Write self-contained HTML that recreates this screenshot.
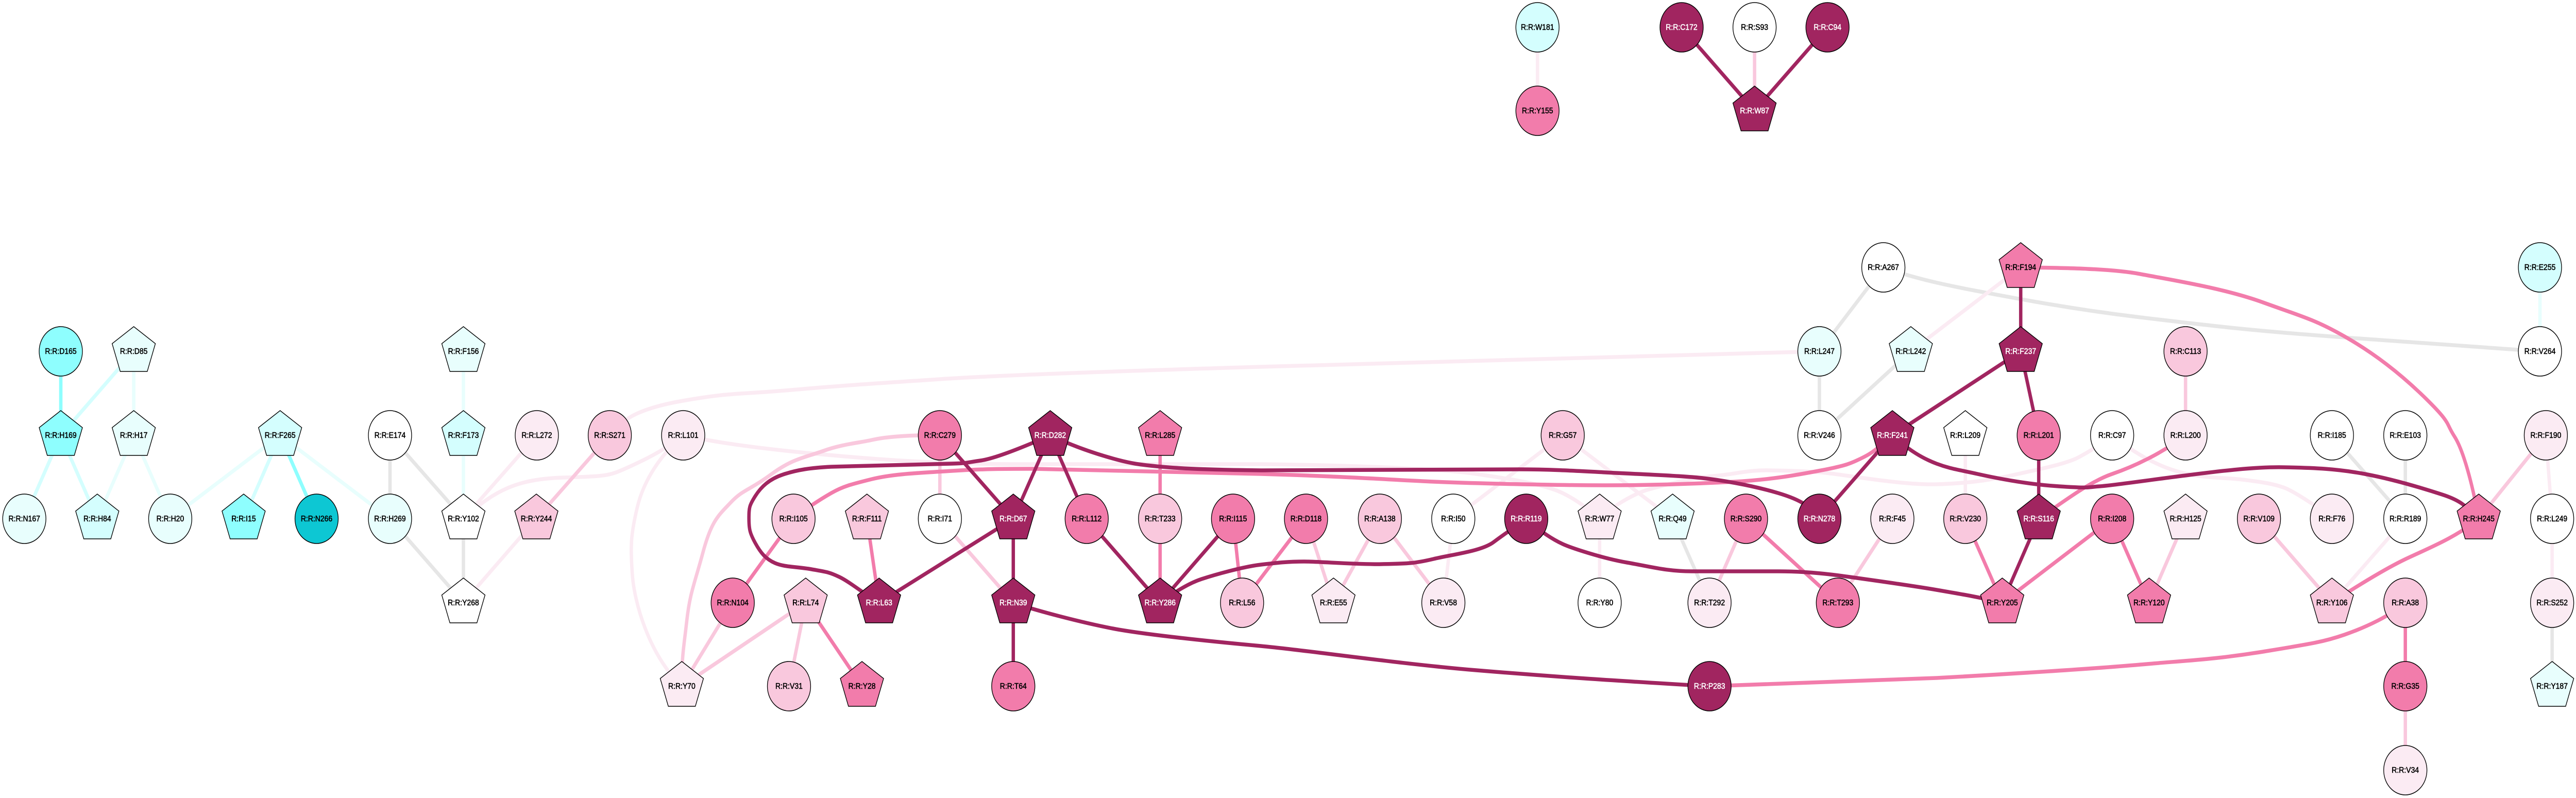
<!DOCTYPE html>
<html><head><meta charset="utf-8"><style>
html,body{margin:0;padding:0;background:#fff;width:100%;height:100%;overflow:hidden}
svg{display:block;width:100%;height:100%}
.e path{fill:none;stroke-width:7.5}
text{text-anchor:middle;font-family:"Liberation Sans",Arial,sans-serif;font-size:16px;fill:#000;stroke:#000;stroke-width:.55}
.n circle,.n use{stroke:#000;stroke-width:1.5}
.d circle,.d use{fill:#a12560}.d text{fill:#fff;stroke:#fff}
.p circle,.p use{fill:#f27cab}
.l circle,.l use{fill:#f9c8dd}
.v circle,.v use{fill:#fbebf3}
.w circle,.w use{fill:#fff}
.c circle,.c use{fill:#e8fefd}
.b circle,.b use{fill:#d4fefe}
.a circle,.a use{fill:#8efefe}
.t circle,.t use{fill:#0dc7d3}
</style></head><body>
<svg xmlns="http://www.w3.org/2000/svg" viewBox="0 0 5720 1549" preserveAspectRatio="none">
<defs><polygon id="q" points="0,-48 48,-15 30,39 -30,39 -48,-15"/></defs>
<rect width="5720" height="1549" fill="#fff"/>
<g class="e">
<path stroke="#e8fefd" d="M297 682L297 845M297 845L216 1007M297 845L378 1007M622 845L378 1007M622 845L866 1007M1029 682L1029 845M1029 845L1029 1007M5640 519L5640 682"/>
<path stroke="#d4fefe" d="M297 682L135 845M135 845L54 1007M135 845L216 1007M622 845L541 1007"/>
<path stroke="#8efefe" d="M135 682L135 845M622 845L703 1007"/>
<path stroke="#e6e6e6" d="M866 845L866 1007M866 845L1029 1007M866 1007L1029 1170M1029 1007L1029 1170M3714 1007L3796 1170M4182 519L4040 682M4040 682L4040 845M4243 682L4040 845M5178 845L5341 1007M5341 845L5341 1007M5667 1332L5667 1170M4182 519C4240 537 4300 550 4391 565S4600 600 4753 616S5000 642 5206 655L5640 682"/>
<path stroke="#fbebf3" d="M1192 845L1029 1007M1191 1007L1029 1170M3470 845L3227 1007M3470 845L3714 1007M3227 1007L3205 1170M3552 1007L3552 1170M4487 519L4243 682M4364 845L4364 1007M5341 1007L5178 1170M5653 845L5667 1007M5667 1007L5667 1170M3414 53L3414 215M1029 1007C1100 950 1150 930 1250 927S1350 925 1400 905S1480 870 1517 845M1354 845C1380 818 1405 795 1516 778S1640 766 1757 757S1950 744 2087 736S2500 720 2800 712L4040 682M1517 845C1470 880 1430 930 1415 985S1400 1060 1404 1114S1440 1270 1514 1332M1517 845L1570 854C1700 875 1950 893 2070 897S2200 901 2293 901L2800 901C3000 903 3200 910 3278 920S3410 938 3450 950S3530 990 3552 1007M3552 1007C3590 975 3640 955 3661 950S3750 928 3804 924S3880 912 3929 913S4000 914 4044 917S4220 942 4300 940S4430 930 4481 920S4590 900 4617 887S4670 860 4690 845M4690 845C4740 880 4790 905 4843 917S4930 926 4979 931S5050 940 5070 946S5150 985 5178 1007"/>
<path stroke="#f9c8dd" d="M1354 845L1191 1007M1627 1170L1514 1332M1789 1170L1514 1332M1789 1170L1752 1332M2087 845L2087 1007M2087 1007L2250 1170M2900 1007L2961 1170M3064 1007L2961 1170M3064 1007L3205 1170M3877 1007L3796 1170M4202 1007L4081 1170M4853 682L4853 845M4853 1007L4772 1170M5016 1007L5178 1170M5653 845L5504 1007M5341 1332L5341 1495M3896 53L3896 215M2087 845L2043 845C2000 846 1960 849 1936 854S1870 862 1829 875S1760 890 1712 921S1650 950 1623 975S1580 1010 1561 1072S1532 1150 1525 1205S1514 1270 1514 1332"/>
<path stroke="#f27cab" d="M1762 1007L1627 1170M1789 1170L1914 1332M1925 1007L1952 1170M2576 845L2576 1007M2576 1007L2576 1170M2738 1007L2758 1170M2900 1007L2758 1170M3877 1007L4081 1170M4364 1007L4446 1170M4690 1007L4446 1170M4690 1007L4772 1170M5341 1170L5341 1332M1762 1007C1785 990 1820 970 1846 957S1890 940 1936 930S2040 918 2114 914S2230 910 2293 910L2800 920C3000 925 3100 932 3183 935S3450 942 3565 942S3770 939 3852 935S3990 922 4044 913S4110 900 4139 887S4180 860 4202 845M3796 1332L4300 1316C4450 1309 4650 1298 4753 1290S4920 1280 5025 1265S5160 1246 5206 1232S5310 1195 5341 1169M4487 519C4560 520 4680 520 4753 532S4940 560 5025 587S5140 620 5206 653S5330 725 5387 774S5430 820 5450 847S5490 940 5504 1007M4853 845C4800 880 4740 905 4690 920S4580 975 4527 1007M5504 1007C5450 1045 5390 1065 5342 1085S5220 1145 5178 1170"/>
<path stroke="#a12560" d="M2087 845L2250 1007M2332 845L2250 1007M2332 845L2413 1007M2250 1007L1952 1170M2250 1007L2250 1170M2250 1170L2250 1332M2413 1007L2576 1170M2738 1007L2576 1170M4202 845L4040 1007M4487 682L4202 845M4487 519L4487 682M4487 682L4527 845M4527 845L4527 1007M4527 1007L4446 1170M3734 53L3896 215M4058 53L3896 215M2332 845C2280 865 2210 890 2177 894S2150 899 2114 900L1846 906C1800 908 1770 912 1739 921S1690 945 1677 963S1663 985 1663 1006S1665 1035 1677 1054S1700 1085 1721 1093S1770 1100 1802 1105S1840 1110 1864 1120S1930 1160 1952 1170M2332 845C2380 865 2430 880 2471 890S2530 902 2579 906S2700 912 2800 913L3374 911C3440 911 3500 914 3565 917S3700 922 3757 926S3890 942 3948 957S4020 985 4040 1007M2576 1170C2610 1148 2640 1132 2668 1124S2760 1100 2800 1096S2860 1090 2896 1090S3010 1096 3068 1095S3140 1094 3183 1085S3290 1070 3317 1052S3370 1020 3389 1007M3389 1007C3420 1032 3450 1048 3470 1056S3560 1084 3613 1092S3700 1109 3757 1109L3948 1109C4000 1109 4050 1113 4091 1118S4240 1136 4300 1145S4400 1160 4446 1170M2250 1170C2300 1185 2400 1208 2471 1220S2700 1246 2800 1254S3100 1288 3278 1301S3600 1322 3796 1332M4202 845C4240 875 4270 890 4300 900S4350 912 4391 920S4500 940 4572 944S4630 946 4662 944S4770 932 4843 924S5000 906 5070 907S5190 910 5251 920S5370 945 5423 960S5480 990 5504 1007"/>
</g>
<g class="n a" transform="translate(135 682)"><circle r="48"/><text y="5">R:R:D165</text></g>
<g class="n c" transform="translate(297 682)"><use href="#q"/><text y="5">R:R:D85</text></g>
<g class="n a" transform="translate(135 845)"><use href="#q"/><text y="5">R:R:H169</text></g>
<g class="n c" transform="translate(297 845)"><use href="#q"/><text y="5">R:R:H17</text></g>
<g class="n b" transform="translate(622 845)"><use href="#q"/><text y="5">R:R:F265</text></g>
<g class="n w" transform="translate(866 845)"><circle r="48"/><text y="5">R:R:E174</text></g>
<g class="n b" transform="translate(1029 845)"><use href="#q"/><text y="5">R:R:F173</text></g>
<g class="n c" transform="translate(1029 682)"><use href="#q"/><text y="5">R:R:F156</text></g>
<g class="n v" transform="translate(1192 845)"><circle r="48"/><text y="5">R:R:L272</text></g>
<g class="n l" transform="translate(1354 845)"><circle r="48"/><text y="5">R:R:S271</text></g>
<g class="n c" transform="translate(54 1007)"><circle r="48"/><text y="5">R:R:N167</text></g>
<g class="n b" transform="translate(216 1007)"><use href="#q"/><text y="5">R:R:H84</text></g>
<g class="n c" transform="translate(378 1007)"><circle r="48"/><text y="5">R:R:H20</text></g>
<g class="n a" transform="translate(541 1007)"><use href="#q"/><text y="5">R:R:I15</text></g>
<g class="n t" transform="translate(703 1007)"><circle r="48"/><text y="5">R:R:N266</text></g>
<g class="n c" transform="translate(866 1007)"><circle r="48"/><text y="5">R:R:H269</text></g>
<g class="n w" transform="translate(1029 1007)"><use href="#q"/><text y="5">R:R:Y102</text></g>
<g class="n l" transform="translate(1191 1007)"><use href="#q"/><text y="5">R:R:Y244</text></g>
<g class="n w" transform="translate(1029 1170)"><use href="#q"/><text y="5">R:R:Y268</text></g>
<g class="n v" transform="translate(1517 845)"><circle r="48"/><text y="5">R:R:L101</text></g>
<g class="n p" transform="translate(2087 845)"><circle r="48"/><text y="5">R:R:C279</text></g>
<g class="n d" transform="translate(2332 845)"><use href="#q"/><text y="5">R:R:D282</text></g>
<g class="n p" transform="translate(2576 845)"><use href="#q"/><text y="5">R:R:L285</text></g>
<g class="n l" transform="translate(1762 1007)"><circle r="48"/><text y="5">R:R:I105</text></g>
<g class="n l" transform="translate(1925 1007)"><use href="#q"/><text y="5">R:R:F111</text></g>
<g class="n w" transform="translate(2087 1007)"><circle r="48"/><text y="5">R:R:I71</text></g>
<g class="n d" transform="translate(2250 1007)"><use href="#q"/><text y="5">R:R:D67</text></g>
<g class="n p" transform="translate(2413 1007)"><circle r="48"/><text y="5">R:R:L112</text></g>
<g class="n l" transform="translate(2576 1007)"><circle r="48"/><text y="5">R:R:T233</text></g>
<g class="n p" transform="translate(2738 1007)"><circle r="48"/><text y="5">R:R:I115</text></g>
<g class="n p" transform="translate(1627 1170)"><circle r="48"/><text y="5">R:R:N104</text></g>
<g class="n l" transform="translate(1789 1170)"><use href="#q"/><text y="5">R:R:L74</text></g>
<g class="n d" transform="translate(1952 1170)"><use href="#q"/><text y="5">R:R:L63</text></g>
<g class="n d" transform="translate(2250 1170)"><use href="#q"/><text y="5">R:R:N39</text></g>
<g class="n d" transform="translate(2576 1170)"><use href="#q"/><text y="5">R:R:Y286</text></g>
<g class="n l" transform="translate(2758 1170)"><circle r="48"/><text y="5">R:R:L56</text></g>
<g class="n v" transform="translate(1514 1332)"><use href="#q"/><text y="5">R:R:Y70</text></g>
<g class="n l" transform="translate(1752 1332)"><circle r="48"/><text y="5">R:R:V31</text></g>
<g class="n p" transform="translate(1914 1332)"><use href="#q"/><text y="5">R:R:Y28</text></g>
<g class="n p" transform="translate(2250 1332)"><circle r="48"/><text y="5">R:R:T64</text></g>
<g class="n w" transform="translate(4182 519)"><circle r="48"/><text y="5">R:R:A267</text></g>
<g class="n c" transform="translate(4040 682)"><circle r="48"/><text y="5">R:R:L247</text></g>
<g class="n c" transform="translate(4243 682)"><use href="#q"/><text y="5">R:R:L242</text></g>
<g class="n l" transform="translate(3470 845)"><circle r="48"/><text y="5">R:R:G57</text></g>
<g class="n w" transform="translate(4040 845)"><circle r="48"/><text y="5">R:R:V246</text></g>
<g class="n d" transform="translate(4202 845)"><use href="#q"/><text y="5">R:R:F241</text></g>
<g class="n p" transform="translate(2900 1007)"><circle r="48"/><text y="5">R:R:D118</text></g>
<g class="n l" transform="translate(3064 1007)"><circle r="48"/><text y="5">R:R:A138</text></g>
<g class="n w" transform="translate(3227 1007)"><circle r="48"/><text y="5">R:R:I50</text></g>
<g class="n d" transform="translate(3389 1007)"><circle r="48"/><text y="5">R:R:R119</text></g>
<g class="n v" transform="translate(3552 1007)"><use href="#q"/><text y="5">R:R:W77</text></g>
<g class="n c" transform="translate(3714 1007)"><use href="#q"/><text y="5">R:R:Q49</text></g>
<g class="n p" transform="translate(3877 1007)"><circle r="48"/><text y="5">R:R:S290</text></g>
<g class="n d" transform="translate(4040 1007)"><circle r="48"/><text y="5">R:R:N278</text></g>
<g class="n v" transform="translate(4202 1007)"><circle r="48"/><text y="5">R:R:F45</text></g>
<g class="n v" transform="translate(2961 1170)"><use href="#q"/><text y="5">R:R:E55</text></g>
<g class="n v" transform="translate(3205 1170)"><circle r="48"/><text y="5">R:R:V58</text></g>
<g class="n w" transform="translate(3552 1170)"><circle r="48"/><text y="5">R:R:Y80</text></g>
<g class="n v" transform="translate(3796 1170)"><circle r="48"/><text y="5">R:R:T292</text></g>
<g class="n p" transform="translate(4081 1170)"><circle r="48"/><text y="5">R:R:T293</text></g>
<g class="n d" transform="translate(3796 1332)"><circle r="48"/><text y="5">R:R:P283</text></g>
<g class="n p" transform="translate(4487 519)"><use href="#q"/><text y="5">R:R:F194</text></g>
<g class="n b" transform="translate(5640 519)"><circle r="48"/><text y="5">R:R:E255</text></g>
<g class="n d" transform="translate(4487 682)"><use href="#q"/><text y="5">R:R:F237</text></g>
<g class="n l" transform="translate(4853 682)"><circle r="48"/><text y="5">R:R:C113</text></g>
<g class="n w" transform="translate(5640 682)"><circle r="48"/><text y="5">R:R:V264</text></g>
<g class="n w" transform="translate(4364 845)"><use href="#q"/><text y="5">R:R:L209</text></g>
<g class="n p" transform="translate(4527 845)"><circle r="48"/><text y="5">R:R:L201</text></g>
<g class="n w" transform="translate(4690 845)"><circle r="48"/><text y="5">R:R:C97</text></g>
<g class="n v" transform="translate(4853 845)"><circle r="48"/><text y="5">R:R:L200</text></g>
<g class="n w" transform="translate(5178 845)"><circle r="48"/><text y="5">R:R:I185</text></g>
<g class="n w" transform="translate(5341 845)"><circle r="48"/><text y="5">R:R:E103</text></g>
<g class="n v" transform="translate(5653 845)"><circle r="48"/><text y="5">R:R:F190</text></g>
<g class="n l" transform="translate(4364 1007)"><circle r="48"/><text y="5">R:R:V230</text></g>
<g class="n d" transform="translate(4527 1007)"><use href="#q"/><text y="5">R:R:S116</text></g>
<g class="n p" transform="translate(4690 1007)"><circle r="48"/><text y="5">R:R:I208</text></g>
<g class="n v" transform="translate(4853 1007)"><use href="#q"/><text y="5">R:R:H125</text></g>
<g class="n l" transform="translate(5016 1007)"><circle r="48"/><text y="5">R:R:V109</text></g>
<g class="n v" transform="translate(5178 1007)"><circle r="48"/><text y="5">R:R:F76</text></g>
<g class="n w" transform="translate(5341 1007)"><circle r="48"/><text y="5">R:R:R189</text></g>
<g class="n p" transform="translate(5504 1007)"><use href="#q"/><text y="5">R:R:H245</text></g>
<g class="n w" transform="translate(5667 1007)"><circle r="48"/><text y="5">R:R:L249</text></g>
<g class="n p" transform="translate(4446 1170)"><use href="#q"/><text y="5">R:R:Y205</text></g>
<g class="n p" transform="translate(4772 1170)"><use href="#q"/><text y="5">R:R:Y120</text></g>
<g class="n l" transform="translate(5178 1170)"><use href="#q"/><text y="5">R:R:Y106</text></g>
<g class="n l" transform="translate(5341 1170)"><circle r="48"/><text y="5">R:R:A38</text></g>
<g class="n v" transform="translate(5667 1170)"><circle r="48"/><text y="5">R:R:S252</text></g>
<g class="n p" transform="translate(5341 1332)"><circle r="48"/><text y="5">R:R:G35</text></g>
<g class="n c" transform="translate(5667 1332)"><use href="#q"/><text y="5">R:R:Y187</text></g>
<g class="n v" transform="translate(5341 1495)"><circle r="48"/><text y="5">R:R:V34</text></g>
<g class="n b" transform="translate(3414 53)"><circle r="48"/><text y="5">R:R:W181</text></g>
<g class="n p" transform="translate(3414 215)"><circle r="48"/><text y="5">R:R:Y155</text></g>
<g class="n d" transform="translate(3734 53)"><circle r="48"/><text y="5">R:R:C172</text></g>
<g class="n w" transform="translate(3896 53)"><circle r="48"/><text y="5">R:R:S93</text></g>
<g class="n d" transform="translate(4058 53)"><circle r="48"/><text y="5">R:R:C94</text></g>
<g class="n d" transform="translate(3896 215)"><use href="#q"/><text y="5">R:R:W87</text></g>
</svg>
</body></html>
